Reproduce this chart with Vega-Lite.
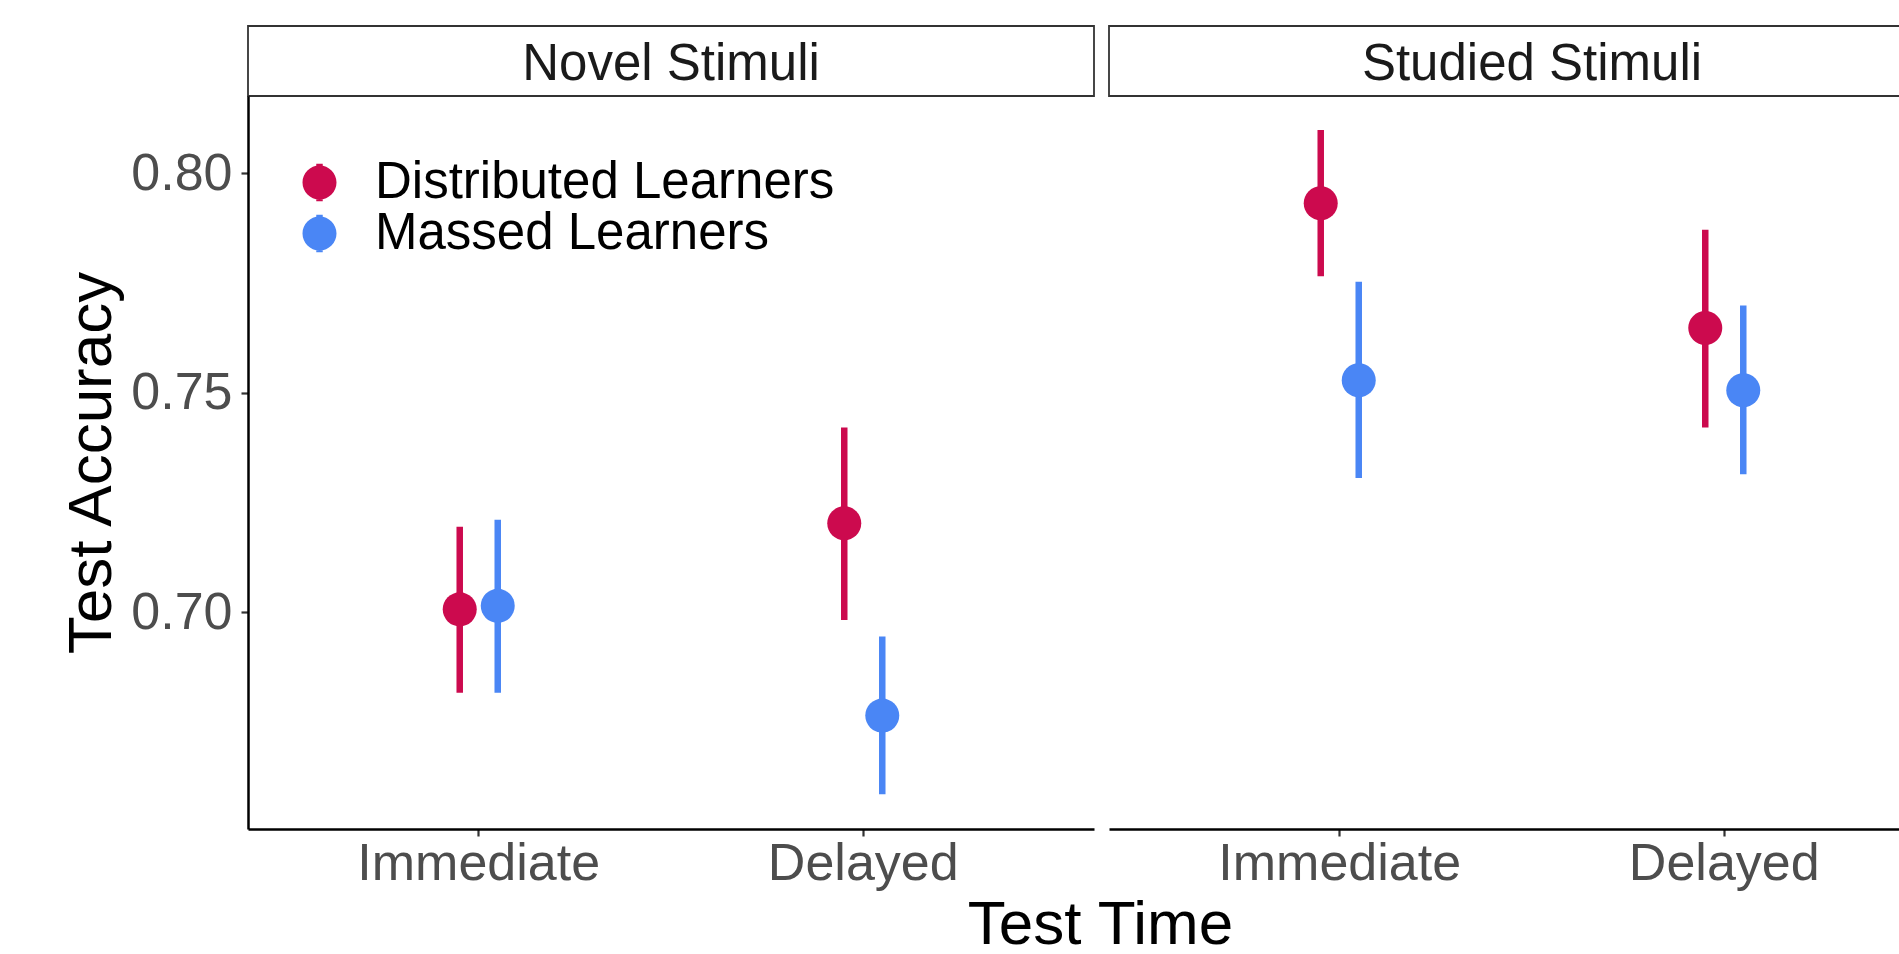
{
  "$schema": "https://vega.github.io/schema/vega-lite/v6.json",
  "background": "white",
  "padding": {"left": 60, "top": 25, "right": 0, "bottom": 0},
  "datasets": {
    "acc": [
      {"stimuli": "Novel Stimuli", "time": "Immediate", "group": "Distributed Learners", "mean": 0.7006, "lo": 0.6816, "hi": 0.7194},
      {"stimuli": "Novel Stimuli", "time": "Immediate", "group": "Massed Learners", "mean": 0.7014, "lo": 0.6816, "hi": 0.7210},
      {"stimuli": "Novel Stimuli", "time": "Delayed", "group": "Distributed Learners", "mean": 0.7202, "lo": 0.6982, "hi": 0.7420},
      {"stimuli": "Novel Stimuli", "time": "Delayed", "group": "Massed Learners", "mean": 0.6764, "lo": 0.6585, "hi": 0.6944},
      {"stimuli": "Studied Stimuli", "time": "Immediate", "group": "Distributed Learners", "mean": 0.7931, "lo": 0.7765, "hi": 0.8098},
      {"stimuli": "Studied Stimuli", "time": "Immediate", "group": "Massed Learners", "mean": 0.7528, "lo": 0.7305, "hi": 0.7752},
      {"stimuli": "Studied Stimuli", "time": "Delayed", "group": "Distributed Learners", "mean": 0.7647, "lo": 0.7420, "hi": 0.7871},
      {"stimuli": "Studied Stimuli", "time": "Delayed", "group": "Massed Learners", "mean": 0.7505, "lo": 0.7314, "hi": 0.7698}
    ]
  },
  "columns": 2,
  "spacing": {"row": 0, "column": 15},
  "bounds": "flush",
  "concat": [
    {
      "data": {"values": [{"stimuli": "Novel Stimuli"}]},
      "width": 846,
      "height": 70,
      "view": {"stroke": "#333333", "strokeWidth": 1.8},
      "mark": {"type": "text", "fontSize": 51, "color": "#1a1a1a", "baseline": "alphabetic", "dy": 19, "font": "Liberation Sans"},
      "encoding": {"text": {"field": "stimuli", "type": "nominal"}}
    },
    {
      "data": {"values": [{"stimuli": "Studied Stimuli"}]},
      "width": 846,
      "height": 70,
      "view": {"stroke": "#333333", "strokeWidth": 1.8},
      "mark": {"type": "text", "fontSize": 51, "color": "#1a1a1a", "baseline": "alphabetic", "dy": 19, "font": "Liberation Sans"},
      "encoding": {"text": {"field": "stimuli", "type": "nominal"}}
    },
    {
      "data": {"name": "acc"},
      "transform": [{"filter": "datum.stimuli === 'Novel Stimuli'"}],
      "width": 846,
      "height": 733,
      "encoding": {
        "x": {
          "field": "time", "type": "nominal", "sort": ["Immediate", "Delayed"],
          "scale": {"paddingInner": 0.8023, "paddingOuter": 0.5012},
          "axis": {"title": "Test Time", "titleX": 852, "titleY": 114, "titleAlign": "center", "titleBaseline": "alphabetic", "labelAngle": 0}
        },
        "xOffset": {"field": "group", "type": "nominal", "sort": ["Distributed Learners", "Massed Learners"], "scale": {"paddingInner": 0, "paddingOuter": 0}},
        "y": {
          "field": "mean", "type": "quantitative",
          "scale": {"domain": [0.65057, 0.81754], "nice": false, "zero": false},
          "axis": {"title": "Test Accuracy", "values": [0.7, 0.75, 0.8], "format": ".2f", "titleX": -138, "titleY": 366.5, "titleAngle": 270, "titleAlign": "center", "titleBaseline": "alphabetic"}
        },
        "color": {
          "field": "group", "type": "nominal",
          "scale": {"domain": ["Distributed Learners", "Massed Learners"], "range": ["#CC0A4E", "#4A86F5"]},
          "legend": {
            "title": null, "orient": "none", "legendX": 46, "legendY": 131, "padding": 0,
            "labelFontSize": 51, "labelFont": "Liberation Sans", "labelColor": "black", "labelBaseline": "middle", "labelOffset": 30, "labelLimit": 0,
            "symbolType": "M1,0A1,1 0 1,1 -1,0A1,1 0 1,1 1,0Z M-0.19,-1.1H0.19V1.1H-0.19Z",
            "symbolSize": 1156, "symbolStrokeWidth": 0, "rowPadding": -8,
            "encode": {"symbols": {"update": {"fill": {"scale": "color", "field": "value"}, "stroke": {"value": "transparent"}, "opacity": {"value": 1}}}}
          }
        }
      },
      "layer": [
        {
          "mark": {"type": "rule", "strokeWidth": 6.5},
          "encoding": {"y": {"field": "lo", "type": "quantitative", "title": "Test Accuracy"}, "y2": {"field": "hi"}}
        },
        {
          "mark": {"type": "point", "filled": true, "shape": "circle", "size": 1156, "opacity": 1}
        }
      ]
    },
    {
      "data": {"name": "acc"},
      "transform": [{"filter": "datum.stimuli === 'Studied Stimuli'"}],
      "width": 846,
      "height": 733,
      "encoding": {
        "x": {
          "field": "time", "type": "nominal", "sort": ["Immediate", "Delayed"],
          "scale": {"paddingInner": 0.8023, "paddingOuter": 0.5012},
          "axis": {"title": null, "labelAngle": 0}
        },
        "xOffset": {"field": "group", "type": "nominal", "sort": ["Distributed Learners", "Massed Learners"], "scale": {"paddingInner": 0, "paddingOuter": 0}},
        "y": {
          "field": "mean", "type": "quantitative",
          "scale": {"domain": [0.65057, 0.81754], "nice": false, "zero": false},
          "axis": null
        },
        "color": {
          "field": "group", "type": "nominal",
          "scale": {"domain": ["Distributed Learners", "Massed Learners"], "range": ["#CC0A4E", "#4A86F5"]},
          "legend": {
            "title": null, "orient": "none", "legendX": 46, "legendY": 131, "padding": 0,
            "labelFontSize": 51, "labelFont": "Liberation Sans", "labelColor": "black", "labelBaseline": "middle", "labelOffset": 30, "labelLimit": 0,
            "symbolType": "M1,0A1,1 0 1,1 -1,0A1,1 0 1,1 1,0Z M-0.19,-1.1H0.19V1.1H-0.19Z",
            "symbolSize": 1156, "symbolStrokeWidth": 0, "rowPadding": -8,
            "encode": {"symbols": {"update": {"fill": {"scale": "color", "field": "value"}, "stroke": {"value": "transparent"}, "opacity": {"value": 1}}}}
          }
        }
      },
      "layer": [
        {
          "mark": {"type": "rule", "strokeWidth": 6.5},
          "encoding": {"y": {"field": "lo", "type": "quantitative"}, "y2": {"field": "hi"}}
        },
        {
          "mark": {"type": "point", "filled": true, "shape": "circle", "size": 1156, "opacity": 1}
        }
      ]
    }
  ],
  "config": {
    "view": {"stroke": null},
    "font": "Liberation Sans",
    "axis": {
      "grid": false,
      "domainColor": "black", "domainWidth": 2.5,
      "tickColor": "#333333", "tickWidth": 2.2, "tickSize": 7,
      "labelFont": "Liberation Sans", "labelFontSize": 52, "labelColor": "#4d4d4d", "labelPadding": 9, "labelLimit": 0,
      "titleFont": "Liberation Sans", "titleFontSize": 62, "titleFontWeight": "normal", "titleColor": "black", "titleLimit": 0
    },
    "axisX": {"labelPadding": 2},
    "legend": {"labelLimit": 0}
  }
}
